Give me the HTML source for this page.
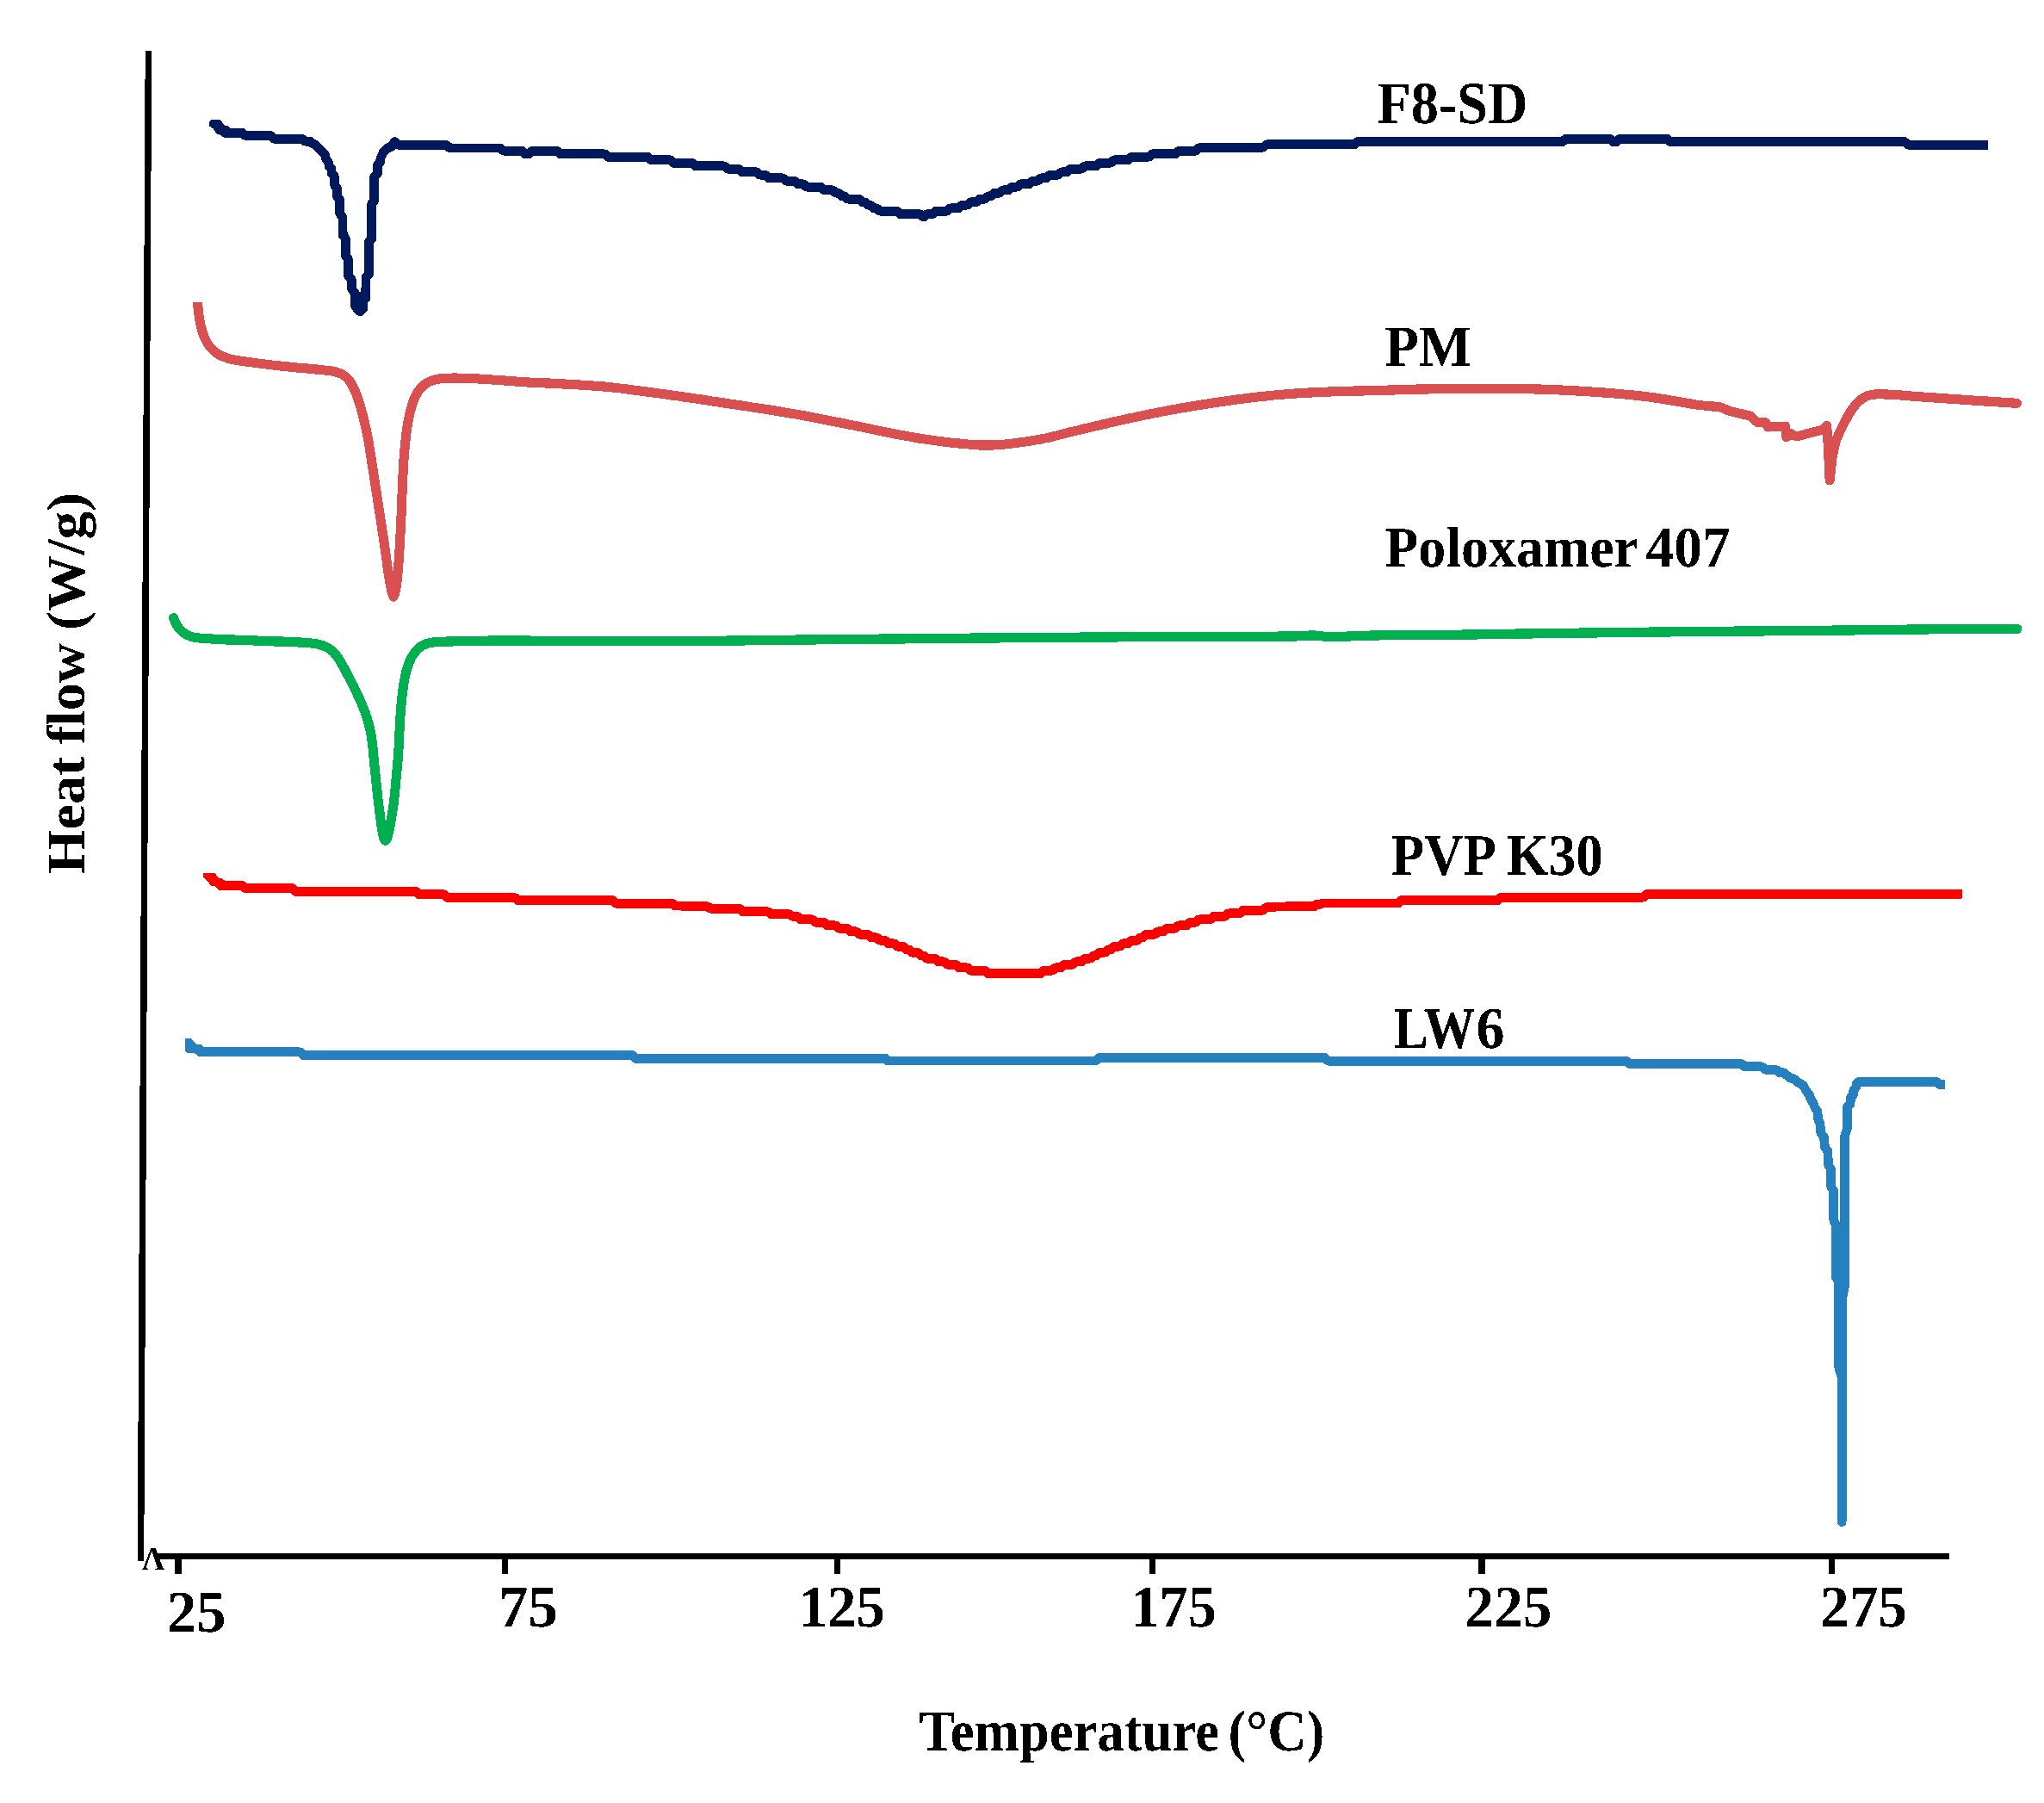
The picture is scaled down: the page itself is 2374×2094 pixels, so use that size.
<!DOCTYPE html>
<html lang="en">
<head>
<meta charset="utf-8">
<title>DSC thermograms</title>
<style>
html,body{margin:0;padding:0;background:#fff;}
body{width:2374px;height:2094px;overflow:hidden;}
svg{display:block;}
text{font-family:"Liberation Serif", "Times New Roman", Times, serif;font-weight:bold;fill:#000;white-space:pre;font-variant-ligatures:none;}
</style>
</head>
<body>
<svg width="2374" height="2094" viewBox="0 0 2374 2094" text-rendering="geometricPrecision">
<defs><filter id="alias" filterUnits="userSpaceOnUse" x="0" y="0" width="2374" height="2094" color-interpolation-filters="sRGB"><feComponentTransfer><feFuncA type="discrete" tableValues="0 1"/></feComponentTransfer></filter></defs>
<rect x="0" y="0" width="2374" height="2094" fill="#fff"/>
<g id="chart" filter="url(#alias)">

<g id="curves">
<polygon points="245.0,139.1 255.2,139.1 261.8,146.1 264.8,146.1 267.7,149.1 270.6,149.1 270.6,159.6 259.6,159.6 256.0,156.7 252.3,156.0 247.2,149.1 243.0,146.4 243.0,142.0" fill="#00185c" stroke="none"/>
<rect x="416" y="339.5" width="5" height="10" fill="#00185c"/>
<polyline points="266.0,154.3 281.6,154.3 284.6,157.4 314.2,157.4 314.2,157.4 318.0,161.2 350.6,161.2 351.3,161.2 354.3,164.2 355.0,164.2 357.1,164.2 357.2,164.3 359.4,164.3 360.6,164.3 363.4,167.0 364.6,167.0 377.8,180.2 378.8,185.3 381.4,188.2 382.2,193.4 382.4,193.4 384.5,195.6 384.7,195.6 385.1,201.5 385.3,201.5 388.2,204.4 388.3,204.4 388.6,215.4 388.7,215.4 391.2,217.9 391.3,217.9 391.7,229.3 392.0,229.3 394.0,231.3 394.4,231.3 394.7,248.4 397.9,252.1 398.3,273.4 401.3,276.8 401.6,298.3 401.9,298.3 404.1,300.5 404.3,300.5 404.6,320.8 404.9,320.8 408.1,324.0 408.3,324.0 408.5,335.8 412.2,340.0 412.4,355.0 415.2,359.5 415.8,359.5 417.9,361.6 418.5,361.6 418.6,361.6 421.7,358.5 421.8,358.5 422.0,348.2 422.7,348.2 424.1,346.8 424.7,346.8 424.9,321.8 425.2,321.8 428.1,318.9 428.4,318.9 428.6,280.0 429.0,280.0 431.2,277.8 431.6,277.8 431.8,235.9 432.0,235.9 434.4,233.5 434.6,233.5 434.7,205.1 434.8,205.1 438.4,201.5 438.5,201.5 438.7,190.7 438.9,190.7 441.4,188.2 441.6,188.2 441.9,183.8 445.6,176.1 445.8,176.1 450.5,171.4 450.7,171.4 452.0,171.4 452.4,171.1 453.7,171.1 458.5,164.6 462.2,168.3 517.0,168.5 519.0,168.5 522.5,172.0 524.5,172.0 579.8,172.0 581.2,172.0 584.3,175.1 585.7,175.1 606.0,175.1 606.2,175.1 609.8,178.7 610.0,178.7 614.0,178.7 614.5,178.7 618.0,175.1 618.5,175.1 644.4,175.1 646.9,175.1 650.7,178.9 653.2,178.9 700.0,178.9 702.8,178.9 706.2,182.4 709.0,182.4 750.0,182.4 752.7,182.4 756.1,185.8 758.8,185.8 776.4,185.8 778.9,185.8 782.6,189.5 785.2,189.5 792.5,189.5 792.8,189.8 800.0,189.8 804.1,189.2 807.5,192.7 841.5,192.7 844.9,196.2 858.5,196.2 861.9,199.7 878.9,199.7 882.3,203.2 889.1,203.2 892.5,206.7 909.5,206.7 912.9,210.2 923.1,210.2 926.5,213.7 933.3,213.7 936.7,217.2 953.7,217.2 957.1,220.7 967.3,220.7 970.7,224.2 974.1,224.2 977.5,227.7 980.9,227.7 984.3,231.2 997.9,231.2 1001.3,234.7 1004.7,234.7 1008.1,238.2 1011.5,238.2 1014.9,241.7 1018.3,241.7 1021.7,245.2 1042.1,245.2 1045.5,248.7 1069.3,248.7 1072.7,252.2 1076.1,248.7 1082.9,248.7 1086.3,245.2 1099.9,245.2 1103.3,241.7 1113.5,241.7 1116.9,238.2 1123.7,238.2 1127.1,234.7 1133.9,234.7 1137.3,231.2 1144.1,231.2 1147.5,227.7 1150.9,227.7 1154.3,224.2 1161.1,224.2 1164.5,220.7 1171.3,220.7 1174.7,217.2 1181.5,217.2 1184.9,213.7 1195.1,213.7 1198.5,210.2 1205.3,210.2 1208.7,206.7 1215.5,206.7 1218.9,203.2 1229.1,203.2 1232.5,199.7 1239.3,199.7 1242.7,196.2 1256.3,196.2 1259.7,192.7 1273.3,192.7 1276.7,189.2 1290.3,189.2 1293.7,185.7 1310.7,185.7 1314.1,182.2 1334.5,182.2 1337.9,178.7 1365.1,178.7 1368.5,175.2 1388.9,175.2 1392.3,171.7 1404.4,171.3 1465.0,171.3 1467.2,171.3 1470.8,167.8 1473.0,167.8 1571.0,167.8 1573.3,167.8 1576.7,164.4 1579.0,164.4 1812.7,164.4 1815.1,164.4 1818.2,161.3 1820.6,161.3 1867.5,161.3 1869.9,161.3 1873.0,164.4 1875.4,164.4 1877.7,164.4 1880.8,161.3 1883.0,161.3 1934.0,161.3 1936.5,161.3 1939.5,164.4 1942.0,164.4 2208.0,164.4 2212.0,164.4 2215.8,168.3 2219.8,168.3 2309.0,168.3" fill="none" stroke="#00185c" stroke-width="10.6" stroke-linecap="butt" stroke-linejoin="round" id="c-f8sd"/>
<polyline points="229.4,351.0 229.6,353.1 229.8,355.3 230.0,357.5 230.2,359.6 230.5,361.8 230.7,363.9 231.0,366.0 231.3,368.0 231.6,370.0 231.9,372.0 232.3,374.0 232.7,376.0 233.1,378.0 233.6,379.9 234.2,382.1 234.9,384.4 235.6,386.6 236.3,388.8 237.1,390.9 238.0,392.9 239.0,395.1 240.1,397.1 241.2,399.1 242.5,401.1 243.9,402.9 245.2,404.4 246.6,405.8 248.1,407.2 249.6,408.5 251.3,409.8 252.9,410.9 254.6,411.9 256.4,412.9 258.2,413.7 260.0,414.5 261.9,415.2 263.9,415.9 265.8,416.5 267.7,417.0 269.6,417.4 271.6,417.8 273.6,418.2 275.7,418.5 277.9,418.9 279.7,419.2 281.5,419.5 283.4,419.8 285.4,420.0 287.4,420.3 289.4,420.6 291.4,420.8 293.5,421.1 295.6,421.4 297.8,421.6 299.9,421.9 301.8,422.1 303.7,422.4 305.6,422.6 307.5,422.9 309.5,423.1 311.5,423.4 313.5,423.6 315.6,423.9 317.6,424.1 319.7,424.4 321.7,424.6 323.7,424.8 325.8,425.1 327.8,425.3 329.8,425.5 331.8,425.7 333.8,425.9 335.9,426.1 338.0,426.3 340.0,426.5 342.1,426.7 344.2,426.9 346.2,427.1 348.2,427.2 350.3,427.4 352.2,427.6 354.2,427.8 356.1,428.0 358.0,428.1 359.8,428.3 362.0,428.5 364.2,428.7 366.3,428.9 368.4,429.1 370.4,429.3 372.4,429.5 374.4,429.7 376.2,429.9 378.0,430.1 379.7,430.3 381.9,430.6 384.0,430.8 386.0,431.1 387.8,431.5 389.7,431.9 391.8,432.5 393.8,433.1 395.8,433.9 397.7,434.9 399.6,436.1 401.4,437.5 403.1,439.1 404.7,440.8 406.0,442.5 407.3,444.4 408.5,446.4 409.6,448.6 410.7,450.8 411.5,452.5 412.3,454.3 413.1,456.1 413.9,458.0 414.6,459.9 415.3,461.9 416.0,463.8 416.7,465.8 417.3,467.7 417.9,469.6 418.5,471.6 419.0,473.6 419.6,475.6 420.1,477.6 420.6,479.6 421.2,481.7 421.7,483.8 422.2,485.7 422.7,487.6 423.1,489.6 423.6,491.6 424.1,493.6 424.5,495.6 425.0,497.6 425.4,499.7 425.9,501.7 426.3,503.8 426.7,505.8 427.1,507.7 427.4,509.7 427.8,511.7 428.1,513.6 428.5,515.6 428.8,517.6 429.1,519.6 429.4,521.6 429.7,523.6 430.1,525.6 430.4,527.7 430.7,529.7 431.0,531.7 431.3,533.6 431.6,535.6 431.9,537.6 432.3,539.6 432.6,541.6 432.9,543.6 433.2,545.7 433.5,547.7 433.8,549.7 434.1,551.7 434.4,553.7 434.7,555.7 435.0,557.7 435.3,559.7 435.6,561.7 435.9,563.7 436.2,565.7 436.5,567.7 436.9,569.6 437.2,571.6 437.5,573.6 437.8,575.6 438.1,577.6 438.4,579.6 438.7,581.6 439.0,583.6 439.3,585.6 439.6,587.6 439.9,589.6 440.2,591.6 440.6,593.6 440.9,595.6 441.2,597.6 441.5,599.6 441.8,601.6 442.1,603.6 442.4,605.6 442.7,607.6 443.0,609.6 443.3,611.6 443.6,613.6 443.9,615.7 444.2,617.7 444.5,619.7 444.8,621.7 445.2,623.8 445.5,625.8 445.7,627.8 446.0,629.7 446.3,631.7 446.6,633.6 446.9,635.7 447.2,637.7 447.5,639.7 447.7,641.7 448.0,643.7 448.3,645.7 448.5,647.7 448.8,649.7 449.1,651.6 449.3,653.6 449.6,655.5 449.9,657.6 450.2,659.6 450.5,661.7 450.8,663.8 451.1,665.9 451.4,667.9 451.7,669.9 452.0,671.8 452.3,673.7 452.6,675.5 453.0,677.8 453.4,680.0 453.9,682.2 454.3,684.2 454.8,686.1 455.2,687.8 456.1,691.2 457.0,693.0 458.0,691.2 459.0,687.8 459.4,686.1 459.8,684.3 460.1,682.2 460.4,680.1 460.7,677.9 461.0,675.5 461.2,673.8 461.4,672.0 461.6,670.1 461.8,668.1 462.0,666.1 462.2,664.0 462.4,661.9 462.6,659.8 462.7,657.7 462.9,655.6 463.0,653.5 463.2,651.5 463.4,649.3 463.5,647.2 463.6,645.0 463.8,642.9 463.9,640.7 464.0,638.6 464.1,636.4 464.2,634.3 464.4,632.1 464.5,629.8 464.6,627.6 464.7,625.7 464.8,623.7 464.9,621.8 465.0,619.8 465.1,617.8 465.2,615.8 465.3,613.8 465.4,611.8 465.5,609.8 465.6,607.7 465.7,605.7 465.8,603.7 465.9,601.6 466.0,599.6 466.1,597.5 466.2,595.4 466.3,593.3 466.4,591.1 466.4,589.0 466.5,586.9 466.6,584.7 466.7,582.6 466.8,580.4 466.9,578.3 466.9,576.1 467.0,574.0 467.1,571.8 467.2,569.7 467.3,567.7 467.4,565.7 467.5,563.6 467.5,561.6 467.6,559.6 467.7,557.5 467.8,555.5 467.9,553.5 468.0,551.5 468.1,549.5 468.2,547.5 468.3,545.5 468.4,543.5 468.5,541.6 468.6,539.7 468.7,537.6 468.9,535.5 469.0,533.5 469.2,531.5 469.3,529.5 469.5,527.5 469.7,525.6 469.8,523.6 470.0,521.6 470.2,519.7 470.4,517.7 470.6,515.7 470.8,513.7 471.0,511.7 471.2,509.6 471.5,507.6 471.7,505.6 471.9,503.5 472.2,501.5 472.4,499.5 472.7,497.5 473.0,495.6 473.3,493.7 473.6,491.8 474.0,489.7 474.4,487.6 474.8,485.5 475.2,483.5 475.6,481.5 476.1,479.5 476.6,477.6 477.1,475.7 477.6,473.8 478.2,471.7 478.9,469.5 479.5,467.5 480.2,465.4 481.0,463.5 481.8,461.6 482.6,459.8 483.7,457.8 484.8,455.9 486.0,454.1 487.2,452.4 488.6,450.8 490.0,449.3 491.6,447.9 493.2,446.5 494.9,445.3 496.6,444.2 498.7,443.1 500.9,442.2 503.2,441.4 505.6,440.8 507.7,440.4 509.9,440.0 512.2,439.8 514.6,439.6 517.0,439.4 519.5,439.3 521.3,439.2 523.2,439.2 525.1,439.1 527.0,439.1 529.0,439.1 531.0,439.1 533.1,439.2 535.2,439.2 537.3,439.2 539.5,439.3 541.3,439.3 543.2,439.4 545.0,439.5 546.9,439.6 548.9,439.6 550.9,439.7 552.8,439.8 554.9,439.9 556.9,440.0 558.9,440.2 561.0,440.3 563.1,440.4 565.2,440.5 567.4,440.7 569.5,440.8 571.4,440.9 573.3,441.1 575.3,441.2 577.3,441.3 579.3,441.5 581.3,441.6 583.3,441.8 585.4,442.0 587.5,442.1 589.5,442.3 591.6,442.5 593.7,442.6 595.8,442.8 597.8,442.9 599.9,443.1 602.0,443.3 604.0,443.4 606.0,443.5 608.0,443.7 610.0,443.8 612.1,443.9 614.3,444.0 616.3,444.2 618.4,444.3 620.4,444.3 622.4,444.4 624.5,444.5 626.5,444.6 628.5,444.7 630.5,444.8 632.6,444.9 634.7,445.0 636.8,445.0 639.0,445.1 641.2,445.3 643.5,445.4 645.8,445.5 647.6,445.6 649.4,445.7 651.3,445.8 653.3,445.9 655.2,446.0 657.2,446.1 659.2,446.2 661.3,446.4 663.4,446.5 665.4,446.6 667.5,446.7 669.7,446.8 671.8,447.0 673.9,447.1 676.1,447.2 678.2,447.3 680.3,447.5 682.5,447.6 684.6,447.8 686.7,447.9 688.8,448.0 690.8,448.2 692.9,448.3 694.9,448.5 696.9,448.7 698.9,448.8 700.8,449.0 702.7,449.1 704.5,449.3 706.7,449.5 708.9,449.7 711.0,449.9 713.1,450.2 715.2,450.4 717.2,450.6 719.2,450.9 721.2,451.1 723.1,451.3 725.1,451.6 727.0,451.8 729.0,452.1 731.0,452.3 733.0,452.6 735.0,452.9 737.1,453.2 739.2,453.4 741.4,453.7 743.6,454.0 745.5,454.2 747.3,454.5 749.3,454.7 751.2,455.0 753.2,455.3 755.2,455.5 757.2,455.8 759.3,456.1 761.3,456.4 763.4,456.6 765.5,456.9 767.6,457.2 769.7,457.5 771.8,457.8 773.9,458.1 776.0,458.4 778.1,458.7 780.2,459.0 782.3,459.3 784.3,459.6 786.4,459.8 788.4,460.1 790.4,460.4 792.4,460.7 794.3,461.0 796.3,461.3 798.2,461.5 800.0,461.8 802.2,462.1 804.4,462.4 806.6,462.8 808.7,463.1 810.8,463.4 812.8,463.7 814.9,464.0 816.9,464.3 818.9,464.6 820.9,464.9 822.9,465.2 824.9,465.6 826.9,465.9 828.9,466.2 830.9,466.5 832.9,466.8 834.9,467.1 837.0,467.4 839.0,467.7 841.1,468.0 843.1,468.3 845.1,468.6 847.1,468.9 849.1,469.2 851.1,469.5 853.1,469.8 855.1,470.1 857.1,470.4 859.2,470.7 861.2,471.0 863.2,471.3 865.3,471.6 867.4,471.9 869.5,472.2 871.7,472.6 873.8,472.9 876.0,473.2 878.3,473.6 880.1,473.9 882.0,474.2 883.9,474.5 885.8,474.8 887.7,475.1 889.7,475.4 891.7,475.7 893.7,476.0 895.7,476.4 897.7,476.7 899.7,477.0 901.8,477.4 903.8,477.7 905.9,478.0 908.0,478.4 910.0,478.7 912.1,479.1 914.2,479.4 916.3,479.8 918.4,480.1 920.5,480.5 922.6,480.8 924.7,481.2 926.7,481.6 928.8,481.9 930.9,482.3 932.9,482.7 935.0,483.0 937.0,483.4 939.0,483.8 941.1,484.1 943.1,484.5 945.1,484.9 947.1,485.3 949.2,485.7 951.2,486.1 953.2,486.5 955.2,486.9 957.3,487.3 959.3,487.7 961.3,488.1 963.3,488.5 965.3,488.9 967.4,489.3 969.4,489.7 971.4,490.1 973.4,490.5 975.5,490.9 977.5,491.3 979.5,491.7 981.5,492.1 983.6,492.6 985.6,493.0 987.6,493.4 989.6,493.8 991.7,494.2 993.7,494.6 995.7,495.0 997.7,495.4 999.8,495.8 1001.8,496.2 1003.9,496.7 1006.0,497.1 1008.0,497.5 1010.1,497.9 1012.2,498.4 1014.3,498.8 1016.4,499.2 1018.5,499.7 1020.6,500.1 1022.7,500.6 1024.7,501.0 1026.8,501.4 1028.9,501.8 1030.9,502.3 1033.0,502.7 1035.0,503.1 1037.0,503.5 1039.1,503.9 1041.0,504.3 1043.0,504.7 1045.0,505.1 1046.9,505.4 1048.8,505.8 1050.7,506.1 1052.6,506.5 1054.4,506.8 1056.6,507.2 1058.8,507.6 1061.0,507.9 1063.1,508.3 1065.2,508.6 1067.3,509.0 1069.4,509.3 1071.4,509.6 1073.4,509.9 1075.4,510.2 1077.4,510.5 1079.4,510.8 1081.4,511.1 1083.4,511.4 1085.4,511.6 1087.4,511.9 1089.4,512.2 1091.4,512.4 1093.5,512.7 1095.6,513.0 1097.7,513.2 1099.8,513.5 1102.0,513.7 1104.1,514.0 1106.3,514.2 1108.5,514.5 1110.7,514.7 1112.8,514.9 1115.0,515.1 1117.1,515.3 1119.2,515.5 1121.3,515.7 1123.3,515.9 1125.3,516.1 1127.3,516.2 1129.1,516.4 1131.0,516.5 1132.7,516.6 1135.2,516.7 1137.5,516.9 1139.7,516.9 1141.9,517.0 1144.0,517.1 1146.0,517.1 1148.1,517.1 1150.2,517.0 1152.3,517.0 1154.4,516.9 1156.5,516.8 1158.6,516.7 1160.6,516.6 1162.7,516.4 1164.8,516.2 1167.0,516.0 1169.3,515.8 1171.8,515.5 1173.5,515.3 1175.4,515.1 1177.2,514.9 1179.2,514.6 1181.2,514.4 1183.2,514.1 1185.3,513.8 1187.4,513.5 1189.5,513.2 1191.7,512.9 1193.8,512.6 1196.0,512.2 1198.2,511.9 1200.4,511.5 1202.5,511.1 1204.7,510.8 1206.8,510.4 1208.9,510.0 1211.0,509.6 1213.0,509.2 1214.9,508.8 1216.8,508.4 1218.7,508.0 1220.6,507.5 1222.5,507.1 1224.4,506.6 1226.2,506.2 1228.1,505.7 1230.0,505.2 1231.9,504.7 1233.8,504.2 1235.8,503.7 1237.7,503.2 1239.7,502.7 1241.7,502.2 1243.7,501.7 1245.8,501.2 1247.9,500.7 1250.0,500.2 1251.8,499.8 1253.6,499.4 1255.4,498.9 1257.2,498.5 1259.1,498.0 1261.0,497.6 1262.9,497.1 1264.8,496.7 1266.7,496.2 1268.7,495.7 1270.7,495.3 1272.6,494.8 1274.6,494.3 1276.6,493.9 1278.6,493.4 1280.6,492.9 1282.7,492.4 1284.7,492.0 1286.7,491.5 1288.7,491.0 1290.8,490.5 1292.8,490.1 1294.8,489.6 1296.8,489.2 1298.9,488.7 1300.9,488.2 1302.9,487.8 1304.9,487.4 1306.8,486.9 1308.8,486.5 1310.8,486.1 1312.8,485.6 1314.9,485.2 1316.9,484.8 1318.9,484.3 1320.9,483.9 1323.0,483.5 1325.0,483.1 1327.0,482.6 1329.0,482.2 1331.0,481.8 1333.1,481.4 1335.1,481.0 1337.1,480.6 1339.1,480.2 1341.2,479.8 1343.2,479.4 1345.2,479.0 1347.2,478.6 1349.3,478.2 1351.3,477.8 1353.3,477.4 1355.3,477.0 1357.4,476.7 1359.4,476.3 1361.4,475.9 1363.4,475.5 1365.5,475.2 1367.5,474.8 1369.5,474.4 1371.5,474.1 1373.5,473.7 1375.6,473.4 1377.6,473.0 1379.6,472.7 1381.6,472.3 1383.6,472.0 1385.6,471.7 1387.6,471.3 1389.7,471.0 1391.7,470.7 1393.7,470.3 1395.7,470.0 1397.7,469.7 1399.7,469.4 1401.8,469.1 1403.8,468.8 1405.8,468.4 1407.8,468.1 1409.8,467.8 1411.8,467.5 1413.9,467.2 1415.9,466.9 1417.9,466.6 1419.9,466.4 1422.0,466.1 1424.0,465.8 1426.0,465.5 1428.0,465.2 1430.1,464.9 1432.1,464.7 1434.1,464.4 1436.1,464.1 1438.2,463.8 1440.2,463.6 1442.2,463.3 1444.3,463.0 1446.3,462.8 1448.4,462.5 1450.4,462.3 1452.4,462.0 1454.5,461.8 1456.5,461.5 1458.5,461.3 1460.6,461.0 1462.6,460.8 1464.6,460.6 1466.7,460.3 1468.7,460.1 1470.8,459.9 1472.8,459.7 1474.8,459.5 1476.9,459.3 1478.9,459.1 1480.9,458.9 1483.0,458.7 1485.0,458.5 1487.0,458.3 1489.0,458.2 1491.1,458.0 1493.1,457.8 1495.1,457.7 1497.1,457.5 1499.2,457.4 1501.2,457.2 1503.2,457.1 1505.3,457.0 1507.3,456.8 1509.3,456.7 1511.3,456.6 1513.4,456.5 1515.4,456.4 1517.4,456.2 1519.4,456.1 1521.5,456.0 1523.5,455.9 1525.5,455.8 1527.5,455.7 1529.5,455.6 1531.5,455.5 1533.6,455.4 1535.6,455.4 1537.6,455.3 1539.6,455.2 1541.6,455.1 1543.6,455.0 1545.6,454.9 1547.7,454.8 1549.7,454.8 1551.7,454.7 1553.8,454.6 1555.8,454.6 1557.8,454.5 1559.9,454.4 1561.9,454.4 1563.9,454.3 1565.9,454.3 1568.0,454.2 1570.0,454.2 1572.0,454.1 1574.0,454.1 1576.0,454.0 1578.1,454.0 1580.1,454.0 1582.1,453.9 1584.1,453.9 1586.1,453.8 1588.1,453.8 1590.1,453.7 1592.1,453.7 1594.1,453.7 1596.0,453.6 1598.0,453.6 1600.0,453.5 1602.0,453.4 1604.0,453.4 1606.0,453.3 1608.0,453.3 1610.0,453.2 1611.9,453.1 1613.9,453.1 1615.8,453.0 1617.7,453.0 1619.7,452.9 1621.6,452.8 1623.5,452.8 1625.5,452.7 1627.4,452.6 1629.4,452.6 1631.3,452.5 1633.3,452.5 1635.3,452.4 1637.3,452.3 1639.3,452.3 1641.4,452.2 1643.4,452.2 1645.5,452.1 1647.7,452.1 1649.8,452.0 1652.0,452.0 1653.8,452.0 1655.7,451.9 1657.5,451.9 1659.4,451.9 1661.3,451.8 1663.2,451.8 1665.1,451.8 1667.1,451.7 1669.0,451.7 1671.0,451.7 1673.0,451.6 1675.0,451.6 1677.0,451.6 1679.0,451.6 1681.1,451.5 1683.1,451.5 1685.1,451.5 1687.2,451.5 1689.3,451.4 1691.3,451.4 1693.4,451.4 1695.5,451.4 1697.6,451.4 1699.6,451.4 1701.7,451.3 1703.8,451.3 1705.9,451.3 1708.0,451.3 1710.1,451.3 1712.1,451.3 1714.2,451.3 1716.3,451.3 1718.4,451.3 1720.4,451.3 1722.5,451.3 1724.5,451.3 1726.6,451.3 1728.6,451.3 1730.6,451.3 1732.6,451.3 1734.6,451.3 1736.6,451.3 1738.6,451.3 1740.6,451.4 1742.6,451.4 1744.5,451.4 1746.5,451.4 1748.5,451.4 1750.5,451.4 1752.4,451.4 1754.4,451.4 1756.4,451.5 1758.3,451.5 1760.3,451.5 1762.3,451.5 1764.2,451.6 1766.2,451.6 1768.2,451.6 1770.2,451.6 1772.1,451.7 1774.1,451.7 1776.1,451.7 1778.1,451.8 1780.1,451.8 1782.1,451.9 1784.1,451.9 1786.1,452.0 1788.1,452.0 1790.2,452.1 1792.2,452.2 1794.2,452.2 1796.3,452.3 1798.4,452.4 1800.4,452.4 1802.5,452.5 1804.6,452.6 1806.7,452.7 1808.8,452.8 1810.7,452.9 1812.6,453.0 1814.5,453.1 1816.5,453.2 1818.4,453.3 1820.4,453.4 1822.4,453.5 1824.4,453.6 1826.4,453.7 1828.4,453.8 1830.4,453.9 1832.4,454.0 1834.5,454.1 1836.5,454.3 1838.6,454.4 1840.6,454.5 1842.7,454.6 1844.8,454.8 1846.8,454.9 1848.9,455.0 1851.0,455.2 1853.1,455.3 1855.1,455.4 1857.2,455.6 1859.3,455.7 1861.3,455.9 1863.4,456.0 1865.5,456.2 1867.5,456.4 1869.6,456.5 1871.6,456.7 1873.7,456.8 1875.7,457.0 1877.8,457.2 1879.8,457.3 1881.8,457.5 1883.8,457.7 1885.8,457.9 1887.7,458.1 1889.7,458.2 1891.7,458.4 1893.6,458.6 1895.5,458.8 1897.4,459.0 1899.3,459.2 1901.2,459.4 1903.0,459.6 1904.9,459.8 1906.7,460.0 1908.9,460.3 1911.0,460.5 1913.2,460.8 1915.4,461.1 1917.6,461.4 1919.8,461.7 1921.9,462.0 1924.1,462.3 1926.3,462.7 1928.4,463.0 1930.6,463.3 1932.7,463.7 1934.8,464.0 1936.9,464.4 1939.0,464.7 1941.1,465.1 1943.2,465.4 1945.2,465.8 1947.2,466.1 1949.2,466.5 1951.2,466.8 1953.1,467.2 1955.1,467.5 1956.9,467.8 1958.8,468.1 1960.6,468.4 1962.4,468.7 1964.2,469.0 1965.9,469.3 1967.6,469.6 1969.3,469.8 1970.9,470.1 1972.5,470.3 1974.0,470.5 1976.6,470.8 1979.1,471.1 1981.5,471.3 1983.9,471.5 1986.2,471.7 1988.4,471.9 1990.5,472.1 1992.5,472.3 1994.4,472.5 1996.2,472.7 1997.8,473.0 1999.4,473.4 2001.6,474.2 2003.4,475.0 2005.1,475.9 2007.3,476.8 2008.8,477.3 2010.4,477.7 2012.2,478.2 2014.0,478.7 2016.0,479.2 2018.0,479.6 2020.1,480.1 2022.3,480.6 2024.4,481.1 2026.5,481.6 2028.6,482.0 2030.7,482.5 2032.7,483.0 2032.7,483.0 2038.6,488.5 2041.5,490.5 2050.3,490.5 2053.3,495.9 2060.1,495.3 2073.8,495.3 2074.6,507.5 2080.7,503.8 2083.6,506.1 2089.5,506.3 2117.8,498.7 2121.7,494.4 2123.3,517.8 2125.1,558.0 2128.2,529.6 2128.7,527.6 2129.1,525.7 2129.5,523.7 2129.9,521.7 2130.4,519.8 2130.8,517.8 2131.3,515.9 2131.9,513.9 2132.5,512.0 2133.2,510.0 2134.0,508.0 2134.8,506.1 2135.6,504.1 2136.5,502.2 2137.4,500.2 2138.4,498.3 2139.3,496.3 2140.3,494.4 2141.2,492.6 2142.1,490.8 2143.1,488.9 2144.1,487.1 2145.1,485.2 2146.1,483.4 2147.1,481.6 2148.1,479.9 2149.1,478.3 2150.1,476.8 2151.4,474.9 2152.7,473.1 2153.9,471.5 2155.2,469.9 2156.6,468.4 2158.0,467.0 2159.7,465.5 2161.4,464.1 2163.2,462.8 2165.0,461.7 2166.8,460.7 2168.9,459.8 2170.9,459.1 2173.1,458.6 2175.6,458.2 2177.4,458.0 2179.3,457.9 2181.3,457.8 2183.4,457.8 2185.6,457.8 2187.9,457.9 2190.3,458.0 2192.7,458.1 2195.1,458.2 2196.9,458.3 2198.8,458.4 2200.8,458.5 2202.7,458.6 2204.8,458.8 2206.8,458.9 2208.9,459.1 2211.0,459.3 2213.2,459.5 2215.3,459.6 2217.5,459.8 2219.7,460.0 2221.9,460.2 2224.0,460.4 2226.2,460.5 2228.4,460.7 2230.4,460.8 2232.4,461.0 2234.4,461.1 2236.4,461.3 2238.5,461.4 2240.5,461.6 2242.6,461.7 2244.6,461.8 2246.7,462.0 2248.8,462.1 2250.9,462.3 2253.0,462.4 2255.0,462.6 2257.1,462.7 2259.2,462.8 2261.3,463.0 2263.4,463.1 2265.4,463.3 2267.5,463.4 2269.6,463.5 2271.6,463.7 2273.7,463.8 2275.8,464.0 2277.9,464.1 2279.9,464.2 2282.0,464.4 2284.1,464.5 2286.2,464.7 2288.2,464.8 2290.3,464.9 2292.4,465.1 2294.5,465.2 2296.5,465.3 2298.6,465.5 2300.6,465.6 2302.6,465.7 2304.7,465.9 2306.7,466.0 2308.8,466.1 2311.0,466.3 2313.1,466.4 2315.2,466.6 2317.3,466.7 2319.5,466.8 2321.6,467.0 2323.7,467.1 2325.7,467.2 2327.8,467.4 2329.9,467.5 2332.0,467.6 2334.1,467.8 2336.2,467.9 2338.3,468.0 2340.4,468.2 2342.5,468.3" fill="none" stroke="#da5050" stroke-width="11" stroke-linecap="butt" stroke-linejoin="round" id="c-pm"/>
<circle cx="2342.5" cy="468.3" r="5.5" fill="#da5050"/>
<polyline points="201.5,717.6 202.4,719.9 203.4,722.2 204.5,724.5 205.6,726.3 206.7,728.0 208.0,729.7 209.4,731.3 210.9,732.8 212.6,734.3 214.3,735.6 216.2,736.8 218.2,737.8 220.3,738.7 222.6,739.5 225.0,740.1 227.1,740.5 229.2,740.8 231.5,741.0 233.8,741.2 236.2,741.3 238.7,741.5 240.7,741.7 242.8,741.8 244.9,742.0 247.1,742.1 249.3,742.2 251.5,742.4 253.8,742.5 256.0,742.6 258.3,742.7 260.3,742.8 262.4,742.9 264.5,742.9 266.6,743.0 268.7,743.0 270.9,743.1 273.0,743.1 275.2,743.2 277.4,743.3 279.6,743.3 281.8,743.4 283.8,743.5 285.9,743.6 288.0,743.7 290.1,743.7 292.2,743.8 294.3,743.9 296.4,744.0 298.6,744.1 300.7,744.2 302.8,744.3 305.0,744.4 307.1,744.5 309.2,744.6 311.3,744.7 313.5,744.7 315.6,744.8 317.8,744.9 320.0,744.9 322.1,745.0 324.3,745.0 326.4,745.1 328.5,745.1 330.6,745.2 332.6,745.2 334.6,745.3 336.6,745.4 338.9,745.5 341.3,745.6 343.5,745.7 345.8,745.9 348.0,746.0 350.1,746.1 352.2,746.3 354.2,746.4 356.1,746.6 358.7,746.8 361.1,747.0 363.4,747.2 365.7,747.5 367.9,747.9 370.0,748.4 372.0,748.9 374.0,749.5 375.9,750.1 377.7,750.9 379.8,751.9 381.8,753.1 383.7,754.4 385.5,755.8 387.0,757.2 388.4,758.6 389.7,760.2 391.0,761.9 392.3,763.6 393.5,765.4 394.7,767.2 395.8,769.2 396.9,771.2 398.1,773.2 399.2,775.3 400.2,777.0 401.1,778.8 402.1,780.7 403.1,782.5 404.1,784.4 405.1,786.2 406.0,788.1 407.0,790.0 408.0,791.9 409.0,793.9 410.0,795.8 411.0,797.8 411.9,799.8 412.9,801.8 413.9,803.7 414.8,805.7 415.7,807.7 416.6,809.6 417.5,811.6 418.4,813.5 419.3,815.5 420.1,817.5 420.9,819.4 421.7,821.3 422.5,823.3 423.2,825.2 424.0,827.2 424.7,829.1 425.3,831.0 426.0,833.0 426.6,835.0 427.2,836.9 427.7,838.8 428.2,840.8 428.7,842.8 429.2,844.7 429.7,846.7 430.1,848.7 430.5,850.7 430.9,852.9 431.3,855.1 431.6,857.3 431.9,859.5 432.2,861.8 432.5,864.0 432.8,866.3 433.0,868.5 433.3,870.6 433.5,872.8 433.6,875.0 433.8,877.2 434.0,879.5 434.2,881.7 434.4,884.0 434.6,886.1 434.8,888.3 435.0,890.4 435.3,892.6 435.5,894.7 435.7,896.9 435.9,899.1 436.2,901.3 436.4,903.5 436.6,905.6 436.8,907.7 437.1,909.9 437.3,912.0 437.5,914.2 437.7,916.3 438.0,918.5 438.2,920.7 438.5,922.8 438.7,925.0 438.9,927.2 439.2,929.4 439.5,931.5 439.7,933.7 440.0,935.9 440.2,938.1 440.5,940.3 440.8,942.4 441.0,944.5 441.3,946.6 441.6,948.9 441.9,951.3 442.2,953.6 442.5,955.8 442.8,958.1 443.1,960.2 443.5,962.3 443.8,964.2 444.2,966.5 444.6,968.7 445.1,970.7 445.6,972.5 446.1,974.0 446.9,975.6 447.7,976.3 448.7,975.2 449.7,973.0 450.3,971.3 450.9,969.3 451.4,967.0 451.9,964.6 452.4,962.2 452.8,960.2 453.2,958.1 453.6,955.9 454.0,953.7 454.4,951.4 454.8,949.1 455.1,946.8 455.5,944.6 455.8,942.4 456.2,940.2 456.5,938.0 456.8,935.9 457.1,933.7 457.4,931.5 457.6,929.2 457.9,927.0 458.1,924.9 458.4,922.7 458.6,920.6 458.8,918.4 459.0,916.2 459.2,914.0 459.4,911.8 459.6,909.6 459.8,907.4 460.0,905.3 460.2,903.1 460.4,901.0 460.6,898.8 460.8,896.7 461.0,894.5 461.2,892.3 461.4,890.2 461.6,888.0 461.8,885.9 462.0,883.7 462.2,881.5 462.3,879.3 462.5,877.1 462.6,875.0 462.8,872.8 462.9,870.6 463.1,868.5 463.2,866.3 463.3,864.1 463.4,862.0 463.5,859.8 463.6,857.6 463.7,855.5 463.8,853.3 463.9,851.1 464.0,849.0 464.1,846.8 464.2,844.6 464.3,842.4 464.5,840.3 464.6,838.1 464.7,835.9 464.8,833.7 465.0,831.6 465.1,829.4 465.3,827.2 465.5,825.0 465.6,822.8 465.8,820.6 466.0,818.4 466.2,816.2 466.4,814.1 466.6,811.9 466.9,809.7 467.1,807.6 467.4,805.3 467.6,803.1 467.9,800.9 468.2,798.7 468.5,796.5 468.8,794.3 469.2,792.1 469.6,790.0 470.0,788.0 470.4,786.0 470.9,784.0 471.4,782.0 471.8,780.0 472.4,778.1 472.9,776.2 473.5,774.4 474.2,772.3 474.9,770.2 475.7,768.2 476.5,766.3 477.4,764.4 478.4,762.6 479.6,760.7 480.9,758.8 482.3,757.0 483.8,755.3 485.3,753.8 487.1,752.2 489.0,750.8 491.0,749.6 493.1,748.5 494.9,747.8 496.7,747.2 498.6,746.7 500.7,746.4 502.9,746.0 504.8,745.8 506.7,745.6 508.8,745.4 510.9,745.3 513.1,745.3 515.4,745.2 517.7,745.1 520.1,745.1 522.5,745.0 524.4,744.9 526.4,744.9 528.4,744.8 530.5,744.8 532.6,744.7 534.7,744.7 536.8,744.6 539.0,744.6 541.1,744.6 543.3,744.5 545.5,744.5 547.6,744.5 549.7,744.4 551.8,744.4 553.8,744.4 555.7,744.3 557.6,744.3 559.5,744.3 561.3,744.2 563.1,744.2 565.0,744.2 566.9,744.1 568.8,744.1 570.8,744.1 573.0,744.0 575.2,744.0 577.5,744.0 580.0,744.0 581.5,744.0 583.1,744.0 584.7,744.0 586.4,744.0 588.1,744.0 589.8,744.0 591.6,744.0 593.4,744.0 595.3,744.0 597.2,744.0 599.2,744.0 601.1,744.0 603.2,744.0 605.2,744.1 607.2,744.1 609.3,744.1 611.4,744.1 613.6,744.1 615.7,744.1 617.9,744.2 620.1,744.2 622.2,744.2 624.4,744.2 626.6,744.2 628.9,744.2 631.1,744.3 633.3,744.3 635.5,744.3 637.7,744.3 639.9,744.3 642.1,744.3 644.3,744.4 646.5,744.4 648.7,744.4 650.9,744.4 653.0,744.4 655.1,744.4 657.2,744.5 659.3,744.5 661.4,744.5 663.4,744.5 665.4,744.5 667.5,744.5 669.5,744.5 671.6,744.5 673.6,744.5 675.7,744.6 677.7,744.6 679.8,744.6 681.9,744.6 683.9,744.6 686.0,744.6 688.1,744.6 690.1,744.6 692.2,744.6 694.3,744.6 696.3,744.7 698.4,744.7 700.4,744.7 702.5,744.7 704.5,744.7 706.5,744.7 708.6,744.7 710.6,744.7 712.6,744.7 714.6,744.7 716.6,744.7 718.6,744.7 720.6,744.8 722.6,744.8 724.5,744.8 726.5,744.8 728.4,744.8 730.4,744.8 732.3,744.8 734.2,744.8 736.1,744.8 738.0,744.8 739.9,744.8 741.8,744.8 743.6,744.8 745.8,744.8 747.9,744.8 749.9,744.8 752.0,744.8 754.0,744.8 755.9,744.8 757.9,744.8 759.8,744.8 761.7,744.8 763.6,744.8 765.5,744.8 767.3,744.8 769.2,744.8 771.1,744.8 773.0,744.8 774.9,744.8 776.8,744.7 778.7,744.7 780.7,744.7 782.7,744.7 784.7,744.7 786.7,744.7 788.8,744.7 791.0,744.7 793.1,744.7 795.4,744.6 797.7,744.6 800.0,744.6 801.7,744.6 803.4,744.6 805.1,744.6 806.8,744.5 808.6,744.5 810.4,744.5 812.3,744.5 814.1,744.5 816.0,744.5 817.9,744.4 819.8,744.4 821.7,744.4 823.7,744.4 825.6,744.3 827.6,744.3 829.6,744.3 831.6,744.3 833.7,744.3 835.7,744.2 837.8,744.2 839.8,744.2 841.9,744.2 844.0,744.1 846.1,744.1 848.2,744.1 850.3,744.0 852.4,744.0 854.6,744.0 856.7,744.0 858.9,743.9 861.0,743.9 863.2,743.9 865.3,743.9 867.5,743.8 869.6,743.8 871.8,743.8 873.9,743.7 876.1,743.7 878.2,743.7 880.4,743.7 882.5,743.6 884.6,743.6 886.8,743.6 888.9,743.5 891.0,743.5 893.1,743.5 895.2,743.5 897.3,743.4 899.3,743.4 901.4,743.4 903.5,743.4 905.5,743.3 907.5,743.3 909.5,743.3 911.5,743.3 913.5,743.2 915.5,743.2 917.4,743.2 919.5,743.2 921.6,743.2 923.7,743.1 925.8,743.1 927.9,743.1 930.0,743.1 932.1,743.0 934.1,743.0 936.2,743.0 938.3,743.0 940.3,743.0 942.3,742.9 944.4,742.9 946.4,742.9 948.4,742.9 950.5,742.8 952.5,742.8 954.5,742.8 956.5,742.8 958.5,742.8 960.5,742.7 962.5,742.7 964.5,742.7 966.5,742.7 968.5,742.7 970.5,742.6 972.5,742.6 974.5,742.6 976.5,742.6 978.5,742.6 980.5,742.5 982.5,742.5 984.5,742.5 986.5,742.5 988.5,742.5 990.5,742.4 992.5,742.4 994.6,742.4 996.6,742.4 998.6,742.4 1000.6,742.3 1002.7,742.3 1004.7,742.3 1006.8,742.3 1008.8,742.3 1010.9,742.2 1012.9,742.2 1015.0,742.2 1017.0,742.2 1018.9,742.2 1020.9,742.1 1022.9,742.1 1024.8,742.1 1026.8,742.1 1028.8,742.1 1030.7,742.0 1032.7,742.0 1034.7,742.0 1036.7,742.0 1038.7,742.0 1040.7,741.9 1042.6,741.9 1044.6,741.9 1046.6,741.9 1048.6,741.9 1050.6,741.9 1052.6,741.8 1054.6,741.8 1056.6,741.8 1058.6,741.8 1060.6,741.8 1062.6,741.7 1064.6,741.7 1066.6,741.7 1068.6,741.7 1070.6,741.7 1072.6,741.6 1074.6,741.6 1076.7,741.6 1078.7,741.6 1080.7,741.6 1082.7,741.5 1084.7,741.5 1086.7,741.5 1088.7,741.5 1090.7,741.5 1092.8,741.5 1094.8,741.4 1096.8,741.4 1098.8,741.4 1100.8,741.4 1102.8,741.4 1104.9,741.3 1106.9,741.3 1108.9,741.3 1110.9,741.3 1112.9,741.3 1115.0,741.3 1117.0,741.2 1119.0,741.2 1121.0,741.2 1123.0,741.2 1125.0,741.2 1127.0,741.1 1129.0,741.1 1131.0,741.1 1133.0,741.1 1135.0,741.1 1137.0,741.1 1139.0,741.0 1141.0,741.0 1143.0,741.0 1145.0,741.0 1147.0,741.0 1149.0,741.0 1151.0,740.9 1153.0,740.9 1155.0,740.9 1157.0,740.9 1159.0,740.9 1161.0,740.9 1163.0,740.8 1165.0,740.8 1167.0,740.8 1169.0,740.8 1171.1,740.8 1173.1,740.7 1175.1,740.7 1177.1,740.7 1179.1,740.7 1181.1,740.7 1183.1,740.7 1185.2,740.6 1187.2,740.6 1189.2,740.6 1191.2,740.6 1193.3,740.6 1195.3,740.6 1197.3,740.6 1199.4,740.5 1201.4,740.5 1203.5,740.5 1205.5,740.5 1207.6,740.5 1209.6,740.5 1211.7,740.4 1213.8,740.4 1215.8,740.4 1217.9,740.4 1220.0,740.4 1222.1,740.4 1224.2,740.3 1226.3,740.3 1228.4,740.3 1230.5,740.3 1232.4,740.3 1234.4,740.3 1236.3,740.3 1238.3,740.2 1240.2,740.2 1242.2,740.2 1244.1,740.2 1246.1,740.2 1248.0,740.2 1250.0,740.2 1251.9,740.2 1253.9,740.1 1255.9,740.1 1257.9,740.1 1259.8,740.1 1261.8,740.1 1263.8,740.1 1265.8,740.1 1267.7,740.0 1269.7,740.0 1271.7,740.0 1273.7,740.0 1275.7,740.0 1277.7,740.0 1279.7,740.0 1281.7,740.0 1283.7,739.9 1285.7,739.9 1287.7,739.9 1289.7,739.9 1291.8,739.9 1293.8,739.9 1295.8,739.9 1297.8,739.9 1299.8,739.8 1301.9,739.8 1303.9,739.8 1305.9,739.8 1308.0,739.8 1310.0,739.8 1312.0,739.8 1314.1,739.8 1316.1,739.8 1318.2,739.7 1320.2,739.7 1322.3,739.7 1324.3,739.7 1326.4,739.7 1328.5,739.7 1330.5,739.7 1332.6,739.7 1334.7,739.6 1336.7,739.6 1338.8,739.6 1340.9,739.6 1343.0,739.6 1345.1,739.6 1347.1,739.6 1349.2,739.6 1351.3,739.5 1353.4,739.5 1355.5,739.5 1357.6,739.5 1359.7,739.5 1361.6,739.5 1363.6,739.5 1365.6,739.5 1367.6,739.5 1369.7,739.5 1371.8,739.4 1373.9,739.4 1376.1,739.4 1378.2,739.4 1380.4,739.4 1382.6,739.4 1384.8,739.4 1387.1,739.4 1389.4,739.4 1391.6,739.4 1393.9,739.4 1396.2,739.4 1398.6,739.4 1400.9,739.4 1403.3,739.4 1405.6,739.4 1408.0,739.4 1410.3,739.4 1412.7,739.4 1415.1,739.3 1417.5,739.3 1419.8,739.3 1422.2,739.3 1424.6,739.3 1427.0,739.3 1429.4,739.3 1431.7,739.3 1434.1,739.3 1436.4,739.3 1438.8,739.3 1441.1,739.3 1443.4,739.3 1445.8,739.3 1448.1,739.3 1450.3,739.3 1452.6,739.3 1454.9,739.3 1457.1,739.3 1459.3,739.3 1461.5,739.3 1463.7,739.2 1465.8,739.2 1467.9,739.2 1470.0,739.2 1472.1,739.2 1474.1,739.2 1476.1,739.2 1478.1,739.2 1480.0,739.2 1482.0,739.2 1483.8,739.1 1485.7,739.1 1487.5,739.1 1489.2,739.1 1490.9,739.1 1492.6,739.1 1494.3,739.0 1495.9,739.0 1497.4,739.0 1498.9,739.0 1500.4,739.0 1501.8,738.9 1503.1,738.9 1504.4,738.9 1505.7,738.9 1506.9,738.8 1508.0,738.8 1509.1,738.8 1510.1,738.8 1511.1,738.7 1512.0,738.7 1514.7,738.6 1516.9,738.4 1518.7,738.2 1520.3,738.0 1522.0,737.9 1524.0,737.9 1525.9,738.0 1527.9,738.1 1530.0,738.3 1532.1,738.5 1534.3,738.8 1536.5,739.0 1538.8,739.2 1541.2,739.4 1543.6,739.5 1545.5,739.5 1547.4,739.6 1549.5,739.5 1551.5,739.5 1553.7,739.5 1555.8,739.4 1558.0,739.3 1560.2,739.3 1562.3,739.2 1564.5,739.1 1566.7,739.0 1568.8,738.9 1570.9,738.8 1573.0,738.8 1575.0,738.7 1577.1,738.6 1579.2,738.6 1581.1,738.5 1583.1,738.4 1585.0,738.4 1586.9,738.3 1588.8,738.2 1590.8,738.1 1592.9,738.1 1595.1,738.0 1597.5,738.0 1600.0,737.9 1601.5,737.9 1603.1,737.8 1604.7,737.8 1606.3,737.8 1608.0,737.8 1609.7,737.8 1611.5,737.8 1613.3,737.7 1615.1,737.7 1617.0,737.7 1618.9,737.7 1620.8,737.7 1622.8,737.7 1624.8,737.7 1626.8,737.7 1628.8,737.7 1630.9,737.7 1633.0,737.7 1635.1,737.7 1637.2,737.7 1639.3,737.7 1641.5,737.7 1643.6,737.7 1645.8,737.6 1648.0,737.6 1650.2,737.6 1652.4,737.6 1654.5,737.6 1656.7,737.6 1658.9,737.6 1661.1,737.6 1663.3,737.6 1665.5,737.6 1667.7,737.5 1669.8,737.5 1672.0,737.5 1673.9,737.5 1675.8,737.5 1677.6,737.4 1679.5,737.4 1681.4,737.4 1683.3,737.4 1685.2,737.3 1687.1,737.3 1689.0,737.3 1690.9,737.3 1692.8,737.2 1694.7,737.2 1696.6,737.2 1698.5,737.1 1700.5,737.1 1702.4,737.1 1704.3,737.1 1706.3,737.0 1708.2,737.0 1710.2,737.0 1712.2,736.9 1714.2,736.9 1716.1,736.9 1718.1,736.8 1720.1,736.8 1722.2,736.8 1724.2,736.7 1726.2,736.7 1728.3,736.7 1730.3,736.6 1732.4,736.6 1734.5,736.5 1736.6,736.5 1738.7,736.5 1740.8,736.4 1742.9,736.4 1745.1,736.4 1747.2,736.3 1749.4,736.3 1751.6,736.3 1753.8,736.2 1756.0,736.2 1758.3,736.2 1760.5,736.1 1762.8,736.1 1765.1,736.1 1767.4,736.0 1769.7,736.0 1771.4,736.0 1773.1,736.0 1774.9,735.9 1776.6,735.9 1778.4,735.9 1780.2,735.9 1782.0,735.8 1783.8,735.8 1785.6,735.8 1787.4,735.8 1789.2,735.7 1791.1,735.7 1793.0,735.7 1794.8,735.7 1796.7,735.6 1798.6,735.6 1800.5,735.6 1802.4,735.6 1804.3,735.5 1806.2,735.5 1808.2,735.5 1810.1,735.5 1812.1,735.4 1814.0,735.4 1816.0,735.4 1818.0,735.3 1819.9,735.3 1821.9,735.3 1823.9,735.3 1825.9,735.2 1827.9,735.2 1829.9,735.2 1832.0,735.2 1834.0,735.1 1836.0,735.1 1838.1,735.1 1840.1,735.1 1842.2,735.0 1844.2,735.0 1846.3,735.0 1848.3,735.0 1850.4,734.9 1852.5,734.9 1854.5,734.9 1856.6,734.8 1858.7,734.8 1860.8,734.8 1862.8,734.8 1864.9,734.7 1867.0,734.7 1869.1,734.7 1871.2,734.7 1873.3,734.6 1875.4,734.6 1877.5,734.6 1879.6,734.6 1881.7,734.5 1883.8,734.5 1885.9,734.5 1888.0,734.5 1890.1,734.4 1892.2,734.4 1894.3,734.4 1896.4,734.4 1898.5,734.3 1900.6,734.3 1902.7,734.3 1904.7,734.3 1906.8,734.2 1908.9,734.2 1911.0,734.2 1913.1,734.2 1915.2,734.1 1917.2,734.1 1919.3,734.1 1921.4,734.1 1923.4,734.0 1925.5,734.0 1927.5,734.0 1929.6,734.0 1931.6,734.0 1933.7,733.9 1935.7,733.9 1937.7,733.9 1939.8,733.9 1941.8,733.8 1943.8,733.8 1945.8,733.8 1947.8,733.8 1949.8,733.8 1951.8,733.7 1953.8,733.7 1955.8,733.7 1957.8,733.7 1959.8,733.7 1961.9,733.6 1963.9,733.6 1965.9,733.6 1967.9,733.6 1969.9,733.6 1971.9,733.5 1973.9,733.5 1976.0,733.5 1978.0,733.5 1980.0,733.5 1982.0,733.4 1984.0,733.4 1986.1,733.4 1988.1,733.4 1990.1,733.4 1992.1,733.3 1994.1,733.3 1996.2,733.3 1998.2,733.3 2000.2,733.3 2002.2,733.3 2004.2,733.2 2006.3,733.2 2008.3,733.2 2010.3,733.2 2012.3,733.2 2014.4,733.1 2016.4,733.1 2018.4,733.1 2020.4,733.1 2022.4,733.1 2024.5,733.1 2026.5,733.0 2028.5,733.0 2030.5,733.0 2032.5,733.0 2034.5,733.0 2036.6,733.0 2038.6,732.9 2040.6,732.9 2042.6,732.9 2044.6,732.9 2046.6,732.9 2048.7,732.9 2050.7,732.8 2052.7,732.8 2054.7,732.8 2056.7,732.8 2058.7,732.8 2060.7,732.8 2062.7,732.7 2064.7,732.7 2066.7,732.7 2068.7,732.7 2070.7,732.7 2072.7,732.7 2074.7,732.6 2076.7,732.6 2078.7,732.6 2080.7,732.6 2082.7,732.6 2084.6,732.5 2086.6,732.5 2088.6,732.5 2090.6,732.5 2092.6,732.5 2094.6,732.5 2096.5,732.4 2098.5,732.4 2100.5,732.4 2102.4,732.4 2104.4,732.4 2106.4,732.4 2108.3,732.3 2110.3,732.3 2112.3,732.3 2114.2,732.3 2116.2,732.3 2118.1,732.2 2120.1,732.2 2122.0,732.2 2124.1,732.2 2126.1,732.2 2128.2,732.1 2130.3,732.1 2132.4,732.1 2134.5,732.1 2136.6,732.0 2138.8,732.0 2140.9,732.0 2143.0,732.0 2145.1,732.0 2147.3,731.9 2149.4,731.9 2151.6,731.9 2153.7,731.9 2155.8,731.8 2158.0,731.8 2160.1,731.8 2162.3,731.8 2164.5,731.7 2166.6,731.7 2168.8,731.7 2170.9,731.7 2173.1,731.6 2175.2,731.6 2177.4,731.6 2179.5,731.6 2181.7,731.5 2183.8,731.5 2186.0,731.5 2188.1,731.5 2190.3,731.4 2192.4,731.4 2194.5,731.4 2196.6,731.4 2198.8,731.3 2200.9,731.3 2203.0,731.3 2205.1,731.3 2207.2,731.2 2209.3,731.2 2211.4,731.2 2213.4,731.2 2215.5,731.1 2217.6,731.1 2219.6,731.1 2221.7,731.1 2223.7,731.0 2225.7,731.0 2227.7,731.0 2229.7,731.0 2231.7,730.9 2233.7,730.9 2235.7,730.9 2237.6,730.9 2239.6,730.9 2241.5,730.8 2243.4,730.8 2245.3,730.8 2247.2,730.8 2249.1,730.8 2251.0,730.7 2252.8,730.7 2254.7,730.7 2256.5,730.7 2258.3,730.7 2260.1,730.7 2261.8,730.6 2263.6,730.6 2265.3,730.6 2267.0,730.6 2268.7,730.6 2270.4,730.6 2272.1,730.5 2273.7,730.5 2275.3,730.5 2276.9,730.5 2278.5,730.5 2280.9,730.5 2283.3,730.5 2285.6,730.5 2287.9,730.4 2290.1,730.4 2292.3,730.4 2294.5,730.4 2296.6,730.4 2298.7,730.4 2300.7,730.4 2302.8,730.4 2304.7,730.4 2306.7,730.4 2308.7,730.4 2310.6,730.4 2312.5,730.4 2314.4,730.4 2316.3,730.3 2318.2,730.3 2320.0,730.3 2321.9,730.3 2323.8,730.3 2325.7,730.3 2327.5,730.3 2329.4,730.3 2331.3,730.3 2333.2,730.3 2335.1,730.3 2337.1,730.3 2339.0,730.3 2341.0,730.3 2343.0,730.3" fill="none" stroke="#00b050" stroke-width="11" stroke-linecap="round" stroke-linejoin="round" id="c-polox"/>
<polygon points="236.0,1014.3 249.7,1014.3 253.6,1019.4 257.5,1019.7 261.4,1023.3 268.3,1023.3 268.3,1033.4 253.6,1033.4 249.7,1029.1 245.8,1029.1 236.0,1018.4" fill="#ff0000" stroke="none"/>
<polyline points="264.4,1028.4 281.0,1028.4 281.4,1028.4 284.5,1031.5 284.9,1031.5 339.7,1031.5 343.6,1035.5 483.5,1035.5 483.8,1035.5 487.2,1038.9 487.5,1038.9 515.8,1038.9 516.0,1038.9 519.5,1042.5 519.7,1042.5 595.0,1042.5 598.4,1042.5 601.3,1045.4 604.7,1045.4 708.4,1045.4 711.4,1045.4 715.2,1049.3 718.2,1049.3 778.9,1049.3 781.4,1049.3 784.1,1052.0 786.7,1052.0 793.0,1052.0 793.8,1052.8 800.0,1052.8 819.6,1052.8 822.3,1052.8 824.7,1055.2 827.4,1055.2 856.8,1055.2 859.0,1055.2 862.5,1058.7 864.6,1058.7 890.0,1058.7 892.4,1058.7 895.4,1061.8 897.8,1061.8 917.4,1061.8 919.7,1064.2 926.5,1064.2 929.9,1067.7 943.5,1067.7 946.9,1071.2 957.1,1071.2 960.5,1074.7 970.7,1074.7 974.1,1078.2 984.3,1078.2 987.7,1081.7 994.5,1081.7 997.9,1085.2 1008.1,1085.2 1011.5,1088.7 1018.3,1088.7 1021.7,1092.2 1028.5,1092.2 1031.9,1095.7 1038.7,1095.7 1042.1,1099.2 1048.9,1099.2 1052.3,1102.7 1055.7,1102.7 1059.1,1106.2 1065.9,1106.2 1069.3,1109.7 1072.7,1109.7 1076.1,1113.2 1086.3,1113.2 1089.7,1116.7 1096.5,1116.7 1099.9,1120.2 1110.1,1120.2 1113.5,1123.7 1123.7,1123.7 1127.1,1127.2 1144.1,1127.2 1147.5,1130.7 1208.7,1130.7 1212.1,1127.2 1222.3,1127.2 1225.7,1123.7 1232.5,1123.7 1235.9,1120.2 1246.1,1120.2 1249.5,1116.7 1256.3,1116.7 1259.7,1113.2 1266.5,1113.2 1269.9,1109.7 1273.3,1109.7 1276.7,1106.2 1283.5,1106.2 1286.9,1102.7 1290.3,1102.7 1293.7,1099.2 1300.5,1099.2 1303.9,1095.7 1310.7,1095.7 1314.1,1092.2 1320.9,1092.2 1324.3,1088.7 1327.7,1088.7 1331.1,1085.2 1341.3,1085.2 1344.7,1081.7 1351.5,1081.7 1354.9,1078.2 1365.1,1078.2 1368.5,1074.7 1378.7,1074.7 1382.1,1071.2 1388.9,1071.2 1392.3,1067.7 1405.9,1067.7 1409.3,1064.2 1422.9,1064.2 1426.3,1060.7 1439.9,1060.7 1443.3,1057.2 1467.1,1057.2 1470.5,1053.7 1499.4,1052.5 1524.0,1052.5 1526.8,1052.5 1529.2,1050.1 1532.0,1050.1 1534.5,1050.1 1535.5,1049.0 1538.0,1049.0 1623.0,1049.0 1624.1,1049.0 1627.7,1045.4 1628.8,1045.4 1738.4,1045.4 1739.8,1045.4 1742.9,1042.3 1744.3,1042.3 1906.7,1042.3 1908.7,1042.3 1912.5,1038.4 1914.5,1038.4 2278.5,1038.4" fill="none" stroke="#ff0000" stroke-width="10.6" stroke-linecap="butt" stroke-linejoin="round" id="c-pvp"/>
<polygon points="215.0,1206.2 221.3,1206.2 228.2,1213.1 234.0,1213.1 237.0,1216.6 240.9,1216.6 240.9,1226.8 230.1,1226.8 226.2,1223.3 217.4,1222.9 215.0,1219.9" fill="#2580c0" stroke="none"/>
<polyline points="237.0,1221.7 348.5,1221.7 348.6,1221.7 352.3,1225.5 352.4,1225.5 732.0,1225.5 734.9,1225.5 738.8,1229.4 741.7,1229.4 1025.0,1229.4 1028.6,1229.4 1031.2,1232.0 1034.8,1232.0 1269.7,1232.0 1272.7,1232.0 1276.5,1228.2 1279.5,1228.2 1535.8,1228.2 1538.6,1228.2 1542.7,1232.3 1545.6,1232.3 1887.0,1232.3 1889.4,1232.3 1892.6,1235.5 1895.0,1235.5 2022.3,1235.5 2023.1,1235.5 2026.2,1238.7 2027.0,1238.7 2045.8,1238.7 2046.4,1238.7 2049.9,1242.3 2050.5,1242.3 2055.8,1242.3 2056.1,1242.6 2061.4,1242.6 2063.2,1242.6 2066.0,1245.4 2067.7,1245.4 2069.7,1245.4 2070.5,1246.2 2072.4,1246.2 2078.6,1251.7 2080.8,1251.7 2082.7,1253.5 2084.9,1253.5 2089.6,1258.2 2090.9,1258.2 2093.0,1260.3 2094.3,1260.3 2098.0,1267.3 2101.7,1272.0 2103.0,1276.7 2106.2,1281.4 2107.7,1286.1 2110.9,1290.8 2111.7,1300.2 2114.0,1304.9 2114.8,1315.9 2118.4,1320.5 2119.6,1333.1 2122.7,1336.2 2123.7,1353.4 2126.4,1357.3 2126.7,1378.5 2129.7,1383.2 2129.8,1417.6 2132.4,1422.3 2132.4,1484.0 2135.6,1487.5 2135.6,1588.0 2139.2,1600.0 2139.2,1767.5 2139.2,1510.0 2142.6,1494.0 2142.6,1319.0 2145.3,1311.2 2145.5,1285.3 2145.8,1285.3 2148.9,1282.2 2149.1,1282.2 2149.4,1275.1 2152.5,1271.2 2152.8,1266.5 2155.7,1262.6 2156.1,1258.7 2156.5,1258.7 2158.8,1256.4 2159.3,1256.4 2249.3,1256.4 2252.4,1259.5 2258.7,1259.5" fill="none" stroke="#2580c0" stroke-width="10.6" stroke-linecap="butt" stroke-linejoin="round" id="c-lw6"/>
</g>
<g id="axes" fill="#000" stroke="none">
<polygon points="168.7,59 176.2,59 167.2,1813 159.7,1813"/>
<rect x="183" y="1804" width="2080.5" height="7"/>
<rect x="203.2" y="1808" width="7.5" height="20"/>
<rect x="582.8" y="1808" width="7.5" height="20"/>
<rect x="968.9" y="1808" width="7.5" height="20"/>
<rect x="1334.8" y="1808" width="7.5" height="20"/>
<rect x="1717.5" y="1808" width="7.5" height="20"/>
<rect x="2123.9" y="1808" width="7.5" height="20"/>
</g>
<g id="labels">
<text transform="translate(0,1823.00) scale(1,0.6035)" font-size="64"><tspan x="164.81" textLength="26.54" lengthAdjust="spacingAndGlyphs">Λ</tspan></text>
<text transform="translate(0,1894.90) scale(1,1.0703)" font-size="64"><tspan x="194.06" textLength="68.43" lengthAdjust="spacingAndGlyphs">25</tspan></text>
<text transform="translate(0,1888.75) scale(1,1.0703)" font-size="64"><tspan x="578.69" textLength="69.23" lengthAdjust="spacingAndGlyphs">75</tspan></text>
<text transform="translate(0,1888.75) scale(1,1.0703)" font-size="64"><tspan x="927.66" textLength="100.18" lengthAdjust="spacingAndGlyphs">125</tspan></text>
<text transform="translate(0,1888.75) scale(1,1.0703)" font-size="64"><tspan x="1313.45" textLength="99.37" lengthAdjust="spacingAndGlyphs">175</tspan></text>
<text transform="translate(0,1888.75) scale(1,1.0703)" font-size="64"><tspan x="1701.56" textLength="100.79" lengthAdjust="spacingAndGlyphs">225</tspan></text>
<text transform="translate(0,1888.75) scale(1,1.0703)" font-size="64"><tspan x="2114.06" textLength="100.79" lengthAdjust="spacingAndGlyphs">275</tspan></text>
<text transform="translate(0,2033.30) scale(1,1.0578)" font-size="64"><tspan x="1067.56" textLength="348.49" lengthAdjust="spacingAndGlyphs">Temperature</tspan> <tspan x="1426.48" textLength="111.92" lengthAdjust="spacingAndGlyphs">(°C)</tspan></text>
<text transform="translate(97.90,0) rotate(-90) scale(1,0.9844)" font-size="64"><tspan x="-1015.00" textLength="136.31" lengthAdjust="spacingAndGlyphs">Heat</tspan> <tspan x="-864.32" textLength="117.31" lengthAdjust="spacingAndGlyphs">flow</tspan> <tspan x="-731.74" textLength="159.81" lengthAdjust="spacingAndGlyphs">(W/g)</tspan></text>
<text transform="translate(0,142.50) scale(1,1.0859)" font-size="64"><tspan x="1599.54" textLength="175.00" lengthAdjust="spacingAndGlyphs">F8-SD</tspan></text>
<text transform="translate(0,424.50) scale(1,1.0625)" font-size="64"><tspan x="1608.28" textLength="100.64" lengthAdjust="spacingAndGlyphs">PM</tspan></text>
<text transform="translate(0,658.00) scale(1,1.0469)" font-size="64"><tspan x="1608.29" textLength="293.51" lengthAdjust="spacingAndGlyphs">Poloxamer</tspan> <tspan x="1911.52" textLength="98.12" lengthAdjust="spacingAndGlyphs">407</tspan></text>
<text transform="translate(0,1016.25) scale(1,1.0703)" font-size="64"><tspan x="1616.09" textLength="118.29" lengthAdjust="spacingAndGlyphs">PVP</tspan> <tspan x="1749.80" textLength="112.08" lengthAdjust="spacingAndGlyphs">K30</tspan></text>
<text transform="translate(0,1217.00) scale(1,1.0703)" font-size="64"><tspan x="1619.10" textLength="94.31" lengthAdjust="spacingAndGlyphs">LW</tspan><tspan x="1714.44" textLength="33.05" lengthAdjust="spacingAndGlyphs">6</tspan></text>
</g>
</g>
</svg>
</body>
</html>
